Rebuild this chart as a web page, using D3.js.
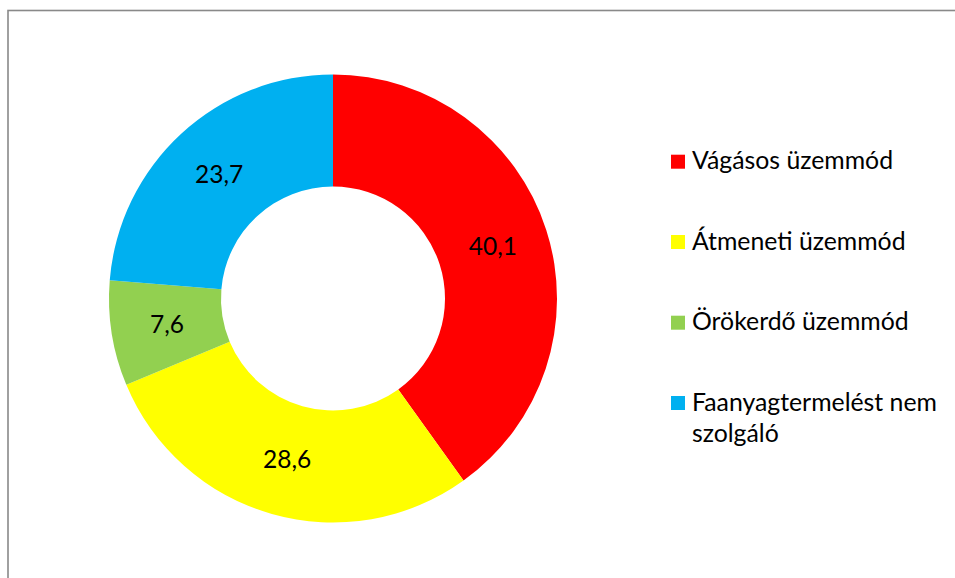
<!DOCTYPE html>
<html><head><meta charset="utf-8">
<script src="https://cdn.jsdelivr.net/npm/d3@7"></script>
<style>body{margin:0;background:#fff}svg{display:block}</style>
</head><body>
<script>
const categories = ["Vágásos üzemmód", "Átmeneti üzemmód", "Örökerdő üzemmód", "Faanyagtermelést nem szolgáló"];
const values = [40.1, 28.6, 7.6, 23.7];
const valueLabels = ["40,1", "28,6", "7,6", "23,7"];
const colors = ["#FF0000", "#FFFF00", "#92D050", "#00B0F0"];
const legendLines = [["Vágásos üzemmód"], ["Átmeneti üzemmód"], ["Örökerdő üzemmód"], ["Faanyagtermelést nem", "szolgáló"]];

const W = 955, H = 578;
const svg = d3.select("body").append("svg").attr("width", W).attr("height", H);
svg.append("rect").attr("x", 8).attr("y", 10.5).attr("width", 960).attr("height", 600)
  .attr("fill", "none").attr("stroke", "#898989").attr("stroke-width", 1.6);

const cx = 333, cy = 298.5, R = 224, r = 112;
const pie = d3.pie().sort(null).value(d => d)(values);
const arc = d3.arc().innerRadius(r).outerRadius(R);
const g = svg.append("g").attr("transform", `translate(${cx},${cy})`);
g.selectAll("path").data(pie).join("path").attr("d", arc).attr("fill", (d, i) => colors[i]);
g.selectAll("text").data(pie).join("text")
  .attr("transform", d => `translate(${arc.centroid(d)})`)
  .attr("text-anchor", "middle").attr("dy", "0.33em")
  .style("font-family", "Lato, 'Open Sans', sans-serif").style("font-size", "24.5px").attr("fill", "#000")
  .text((d, i) => valueLabels[i]);

const leg = svg.append("g");
const rowY = [161.7, 242, 322.7, 403];
categories.forEach((c, i) => {
  leg.append("rect").attr("x", 671).attr("y", rowY[i] - 7).attr("width", 14).attr("height", 14).attr("fill", colors[i]);
  legendLines[i].forEach((t, j) => {
    leg.append("text").attr("x", 692).attr("y", rowY[i] + 7.6 + j * 31)
      .style("font-family", "Lato, 'Open Sans', sans-serif").style("font-size", "24.8px").attr("fill", "#000")
      .text(t);
  });
});
</script>
</body></html>
